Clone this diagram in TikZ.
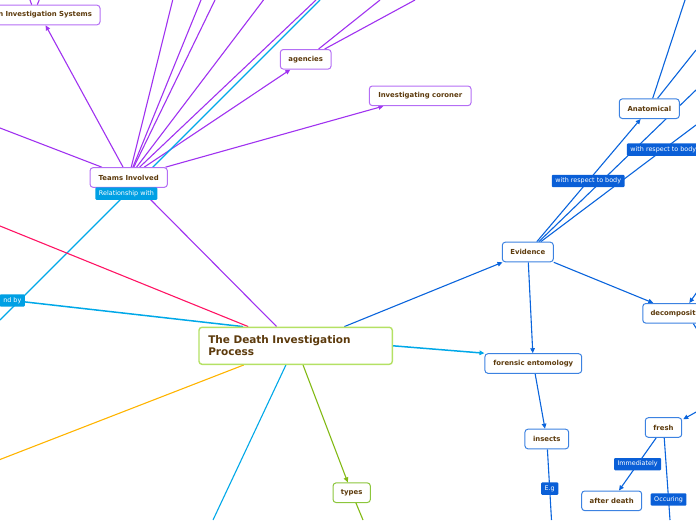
\documentclass[tikz,border=0pt]{standalone}
\usepackage{fontspec}
\setmainfont{DejaVu Sans}
\usetikzlibrary{arrows.meta,calc}
\pgfdeclarelayer{bg}
\pgfsetlayers{bg,main}
\definecolor{purp}{RGB}{160,50,240}
\definecolor{purpbd}{RGB}{180,110,245}
\definecolor{dblue}{RGB}{10,100,220}
\definecolor{bluebd}{RGB}{60,130,225}
\definecolor{cyanl}{RGB}{0,168,232}
\definecolor{cyanlbl}{RGB}{0,160,228}
\definecolor{bluelbl}{RGB}{10,95,215}
\definecolor{pinkl}{RGB}{255,20,100}
\definecolor{orangel}{RGB}{255,180,0}
\definecolor{greenl}{RGB}{130,185,20}
\definecolor{greenbd}{RGB}{140,198,60}
\definecolor{centralbd}{RGB}{180,225,100}
\definecolor{txtbrown}{RGB}{92,58,12}
\tikzset{
  box/.style={draw, rounded corners=3pt, fill=white, line width=1pt, inner sep=0pt,
    minimum height=19.6pt, text=txtbrown, font=\fontsize{6.9}{8}\selectfont\bfseries},
  pbox/.style={box, draw=purpbd},
  bbox/.style={box, draw=bluebd},
  gbox/.style={box, draw=greenbd},
  lbl/.style={rounded corners=1pt, inner xsep=3.5pt, inner ysep=0pt, minimum height=12.3pt,
    text=white, font=\fontsize{6.4}{7}\selectfont},
  clbl/.style={lbl, fill=cyanlbl},
  blbl/.style={lbl, fill=bluelbl},
  pl/.style={draw=purp, line width=1.1pt},
  dbl/.style={draw=dblue, line width=1.1pt},
  cl/.style={draw=cyanl, line width=1.1pt},
  tip/.style={-{Triangle[length=5pt,width=4.5pt]}},
}
\begin{document}
\begin{tikzpicture}[x=1pt,y=-1pt]
\useasboundingbox (0,0) rectangle (696,520);
\clip (0,0) rectangle (696,520);
% free ends
\coordinate (t1) at (172.7,0);
\coordinate (t2) at (201,0);
\coordinate (t3) at (215,0);
\coordinate (t4) at (263.5,0);
\coordinate (t5) at (316,0);
\coordinate (tl) at (0,128);
\coordinate (a1) at (380,0);
\coordinate (a2) at (415,0);
\coordinate (s1) at (30,0);
\coordinate (s2) at (39.2,0);
\coordinate (r1) at (320,0);
\coordinate (r2) at (0,320);
\coordinate (pk) at (0,226);
\coordinate (orl) at (0,459.5);
\coordinate (cy) at (213,520);
\coordinate (ty) at (363,520);
\coordinate (eb) at (696,90);
\coordinate (ec) at (696,125);
\coordinate (an1) at (685,0);
\coordinate (an2) at (696,50);
\coordinate (dc1) at (697,292);
\coordinate (dc2) at (698,331);
\coordinate (fr1) at (698,411);
\coordinate (fr2) at (670,520);
\coordinate (in1) at (551.5,520);
% nodes
\node[pbox, minimum width=120pt, text width=104pt, align=right, inner xsep=8pt] (sys) at (40,15) {n Investigation Systems};
\node[pbox, minimum width=77.3pt] (teams) at (128.7,177.5) {Teams Involved};
\node[pbox, minimum width=50.7pt] (agencies) at (305.7,59.3) {agencies};
\node[pbox, minimum width=101.7pt] (coroner) at (420.2,95.8) {Investigating coroner};
\node[box, draw=centralbd, line width=1.4pt, minimum width=193.3pt, minimum height=37pt,
  text width=174.7pt, align=left, inner xsep=9.3pt,
  font=\fontsize{10.5}{11.5}\selectfont\bfseries] (central) at (295.65,345.8) {The Death Investigation\\Process};
\node[gbox, minimum width=37.3pt] (types) at (351.7,492.7) {types};
\node[bbox, minimum width=51pt] (evidence) at (527.8,252) {Evidence};
\node[bbox, minimum width=60pt] (anat) at (649.3,108.7) {Anatomical};
\node[bbox, minimum width=96.7pt] (forensic) at (533.3,363.5) {forensic entomology};
\node[bbox, minimum width=43.7pt] (insects) at (546.8,439) {insects};
\node[bbox, minimum width=36.4pt] (fresh) at (663.5,427.5) {fresh};
\node[bbox, minimum width=60pt] (after) at (611.7,500.8) {after death};
\node[bbox, anchor=west, minimum width=100pt, text width=84.6pt, align=left, inner xsep=7.7pt] (decomp) at (642.3,313.3) {decomposit};
\node[clbl, anchor=east] (ndby) at (25,300.5) {nd by};
\coordinate (ev1) at ($(evidence.north)+(9,0)$);
\coordinate (ev2) at ($(evidence.north)+(11,0)$);
\coordinate (ev3) at ($(evidence.north)+(13,0)$);
% labels on connectors
\path (r1) -- node[clbl, pos=0.605] (rel) {Relationship with} (r2);
\path (ev1) -- node[blbl, pos=0.495] (wr1) {with respect to body} (anat);
\path (ev3) -- node[blbl, pos=0.789] (wr2) {with respect to body} (ec);
\path (fresh) -- node[blbl, midway] (imm) {Immediately} (after);
\path (fresh) -- node[blbl, pos=0.75] (occ) {Occuring} (fr2);
\path (insects) -- node[blbl, pos=0.556] (eg) {E.g} (in1);
\begin{pgfonlayer}{bg}
% teams involved
\draw[pl] (teams) -- (t1);
\draw[pl] (teams) -- (t2);
\draw[pl] (teams) -- (t3);
\draw[pl] (teams) -- (t4);
\draw[pl] (teams) -- (t5);
\draw[pl,tip] (teams) -- (agencies);
\draw[pl,tip] (teams) -- (coroner);
\draw[pl,tip] (teams) -- (sys);
\draw[pl] (teams) -- (tl);
\draw[pl] (teams) -- (central);
\draw[pl] (agencies) -- (a1);
\draw[pl] (agencies) -- (a2);
\draw[pl] ($(sys.north)+(-8.3,0)$) -- (s1);
\draw[pl] ($(sys.north)+(-2.7,0)$) -- (s2);
\draw[cl] (r1) -- (r2);
% central
\draw[draw=pinkl, line width=1.1pt] (central) -- (pk);
\draw[cl, line width=1.5pt] (ndby) -- ($(central.north west)!0.23!(central.north east)$);
\draw[draw=orangel, line width=1.1pt] ($(central.south west)!0.233!(central.south east)$) -- (orl);
\draw[cl] ($(central.south west)!0.45!(central.south east)$) -- (cy);
\draw[draw=greenl, line width=1.1pt, tip] ($(central.south west)!0.538!(central.south east)$) -- (types);
\draw[draw=greenl, line width=1.1pt] (types) -- (ty);
\draw[dbl,tip] ($(central.north west)!0.75!(central.north east)$) -- (evidence);
\draw[cl, line width=1.5pt, tip] (central.east) -- (forensic.north west);
% evidence
\draw[dbl,tip] (ev1) -- (anat);
\draw[dbl] (ev2) -- (eb);
\draw[dbl] (ev3) -- (ec);
\draw[dbl] (anat) -- (an1);
\draw[dbl] (anat) -- (an2);
\draw[dbl,tip] (evidence.south east) -- ($(decomp.north west)+(11,0)$);
\draw[dbl,tip] (dc1) -- ($(decomp.north west)+(47,0)$);
\draw[dbl] ($(decomp.south west)+(51,0)$) -- (dc2);
\draw[dbl,tip] (fr1) -- ($(fresh.north east)+(1,2)$);
\draw[dbl,tip] (fresh) -- (after);
\draw[dbl] (fresh) -- (fr2);
\draw[dbl,tip] (evidence) -- (forensic);
\draw[dbl,tip] (forensic) -- (insects);
\draw[dbl] (insects) -- (in1);
\end{pgfonlayer}
\end{tikzpicture}
\end{document}
